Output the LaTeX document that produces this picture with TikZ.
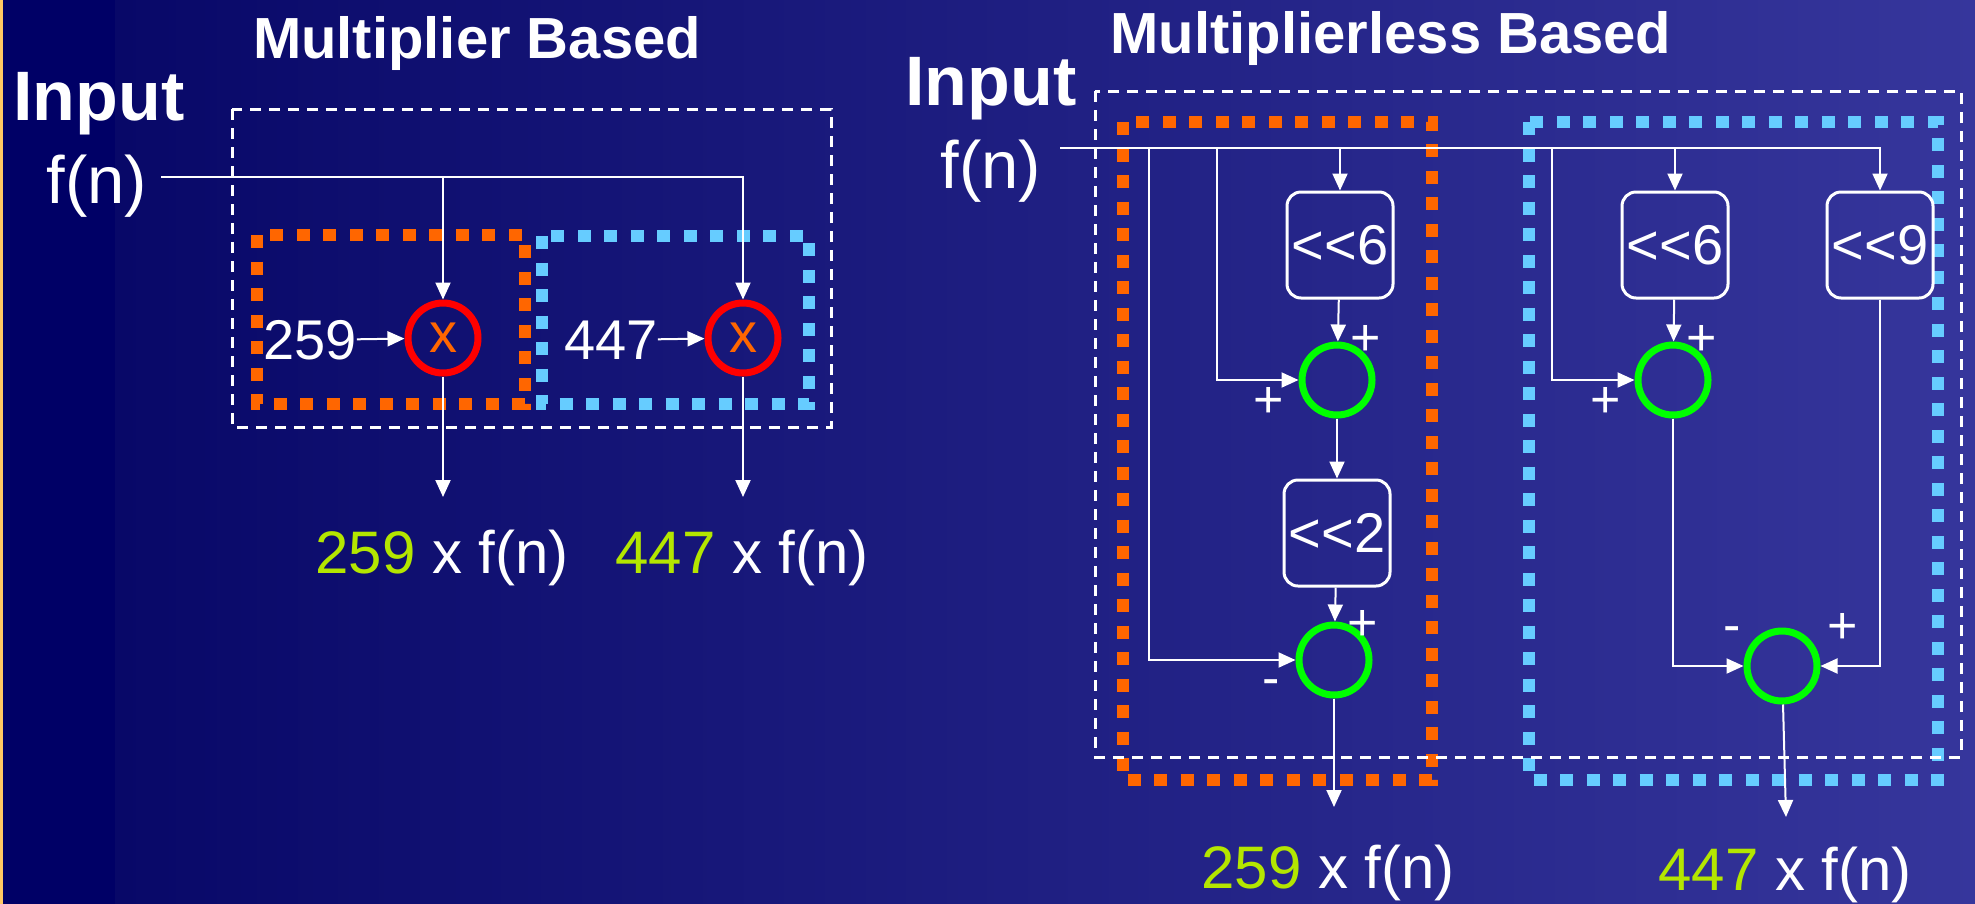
\documentclass[tikz,border=0pt]{standalone}
\usepackage{fontspec}
\setmainfont{Liberation Sans}
\usetikzlibrary{arrows.meta}

\definecolor{bgdark}{RGB}{0,0,102}
\definecolor{bgmid}{RGB}{8,8,104}
\definecolor{bglight}{RGB}{54,54,156}
\definecolor{edgeorange}{RGB}{255,200,100}
\definecolor{grporange}{RGB}{255,102,0}
\definecolor{grpblue}{RGB}{102,204,255}
\definecolor{coefgreen}{RGB}{180,230,0}
\definecolor{addgreen}{RGB}{0,255,0}

\begin{document}
\begin{tikzpicture}[x=1pt,y=-1pt]
    \tikzset{
        mult/.style={draw=red, line width=7pt, circle, inner sep=0pt, minimum size=70pt,
            text=grporange, font=\fontsize{56}{56}\selectfont},
        adder/.style={draw=addgreen, line width=7pt, circle, inner sep=0pt, minimum size=70pt},
        shifter/.style={draw=white, line width=3pt, rounded corners=14pt, inner sep=0pt,
            minimum width=106pt, minimum height=106pt, text=white, font=\fontsize{56}{56}\selectfont},
        arc/.style={draw=white, line width=2pt, -{Triangle[length=17pt,width=15pt]}},
        title/.style={text=white, inner sep=0pt, anchor=base, font=\bfseries\fontsize{58}{58}\selectfont},
        inlabel/.style={text=white, inner sep=0pt, anchor=base, font=\bfseries\fontsize{70}{70}\selectfont},
        txt/.style={text=white, inner sep=0pt, anchor=base, font=\fontsize{60}{60}\selectfont},
        fnlabel/.style={text=white, inner sep=0pt, anchor=base, font=\fontsize{67}{67}\selectfont},
        coef/.style={text=white, inner sep=0pt, font=\fontsize{56}{56}\selectfont},
        sign/.style={text=white, inner sep=0pt, font=\fontsize{52}{52}\selectfont},
        region/.style={white, line width=3pt, dash pattern=on 11pt off 8pt},
        grpA/.style={grporange, line width=12pt, dash pattern=on 13pt off 13.5pt},
        grpB/.style={grpblue, line width=12pt, dash pattern=on 13pt off 13.5pt}
    }
    \useasboundingbox (0,0) rectangle (1975,903);

    % background
    \shade[left color=bgmid, right color=bglight] (115,-5) rectangle (1980,910);
    \fill[bgdark] (-5,-5) rectangle (115,910);
    \fill[edgeorange] (-5,-5) rectangle (3,910);

    % multiplier based
    \node[title] (titleL) at (477,58) {Multiplier Based};
    \node[inlabel] (inputL) at (99,120) {Input};
    \node[fnlabel] (fnL) at (97,203) {f(n)};

    \draw[grpA] (257,235) rectangle (525,404);
    \draw[grpB] (542,236) rectangle (809,404);
    \draw[region] (232,109) rectangle (831,427);

    \coordinate (inL) at (161,177);
    \draw node[mult] (mulA) at (443,338) {x};
    \draw node[mult] (mulB) at (743,338) {x};
    \node[coef] (coefA) at (310,340) {259};
    \node[coef] (coefB) at (611,340) {447};
    \coordinate (outA) at (443,497);
    \coordinate (outB) at (743,497);

    \draw[arc] (inL) -| (mulB);
    \draw[arc] (mulA |- inL) -- (mulA);
    \foreach \x/\y in {%
        coefA/mulA,coefB/mulB,mulA/outA,mulB/outB%
    }{
        \draw (\x) edge[arc] (\y);
    }
    \node[txt] (resA) at (442,573) {\textcolor{coefgreen}{259} x f(n)};
    \node[txt] (resB) at (742,573) {\textcolor{coefgreen}{447} x f(n)};

    % multiplierless based
    \node[title] (titleR) at (1391,53) {Multiplierless Based};
    \node[inlabel] (inputR) at (991,105) {Input};
    \node[fnlabel] (fnR) at (991,188) {f(n)};

    \draw[grpA] (1123,122) rectangle (1432,780);
    \draw[grpB] (1529,122) rectangle (1938,780);
    \draw[region] (1095,91) rectangle (1961,757);

    \coordinate (inR) at (1060,148);
    \coordinate (tapB) at (1149,148);
    \coordinate (tapA) at (1217,148);
    \coordinate (tapC) at (1552,148);
    \draw node[shifter] (shiftA) at (1340,245) {<{}<6};
    \draw node[shifter] (shiftC) at (1337,533) {<{}<2};
    \draw node[shifter] (shiftB) at (1675,245) {<{}<6};
    \draw node[shifter] (shiftD) at (1880,245) {<{}<9};
    \draw node[adder] (addA) at (1337,380) {};
    \draw node[adder] (addB) at (1334,660) {};
    \draw node[adder] (addC) at (1673,380) {};
    \draw node[adder] (addD) at (1782,666) {};
    \coordinate (outL) at (1334,807);
    \coordinate (outR) at (1786,817);

    \draw[arc] (inR) -| (shiftD);
    \draw[arc] (shiftA |- inR) -- (shiftA);
    \draw[arc] (shiftB |- inR) -- (shiftB);
    \draw[arc] (tapA) |- (addA);
    \draw[arc] (tapB) |- (addB);
    \draw[arc] (tapC) |- (addC);
    \draw[arc] (addC) |- (addD);
    \draw[arc] (shiftD) |- (addD);
    \foreach \x/\y in {%
        shiftA/addA,addA/shiftC,shiftC/addB,addB/outL,shiftB/addC,addD/outR%
    }{
        \draw (\x) edge[arc] (\y);
    }

    \node[sign] (sA1) at (1366,340) {+};
    \node[sign] (sA2) at (1269,402) {+};
    \node[sign] (sB1) at (1363,625) {+};
    \node[sign] (sB2) at (1271,688) {-};
    \node[sign] (sC1) at (1702,340) {+};
    \node[sign] (sC2) at (1606,402) {+};
    \node[sign] (sD1) at (1732,635) {-};
    \node[sign] (sD2) at (1843,628) {+};

    \node[txt] (resC) at (1328,888) {\textcolor{coefgreen}{259} x f(n)};
    \node[txt] (resD) at (1785,890) {\textcolor{coefgreen}{447} x f(n)};
\end{tikzpicture}
\end{document}
